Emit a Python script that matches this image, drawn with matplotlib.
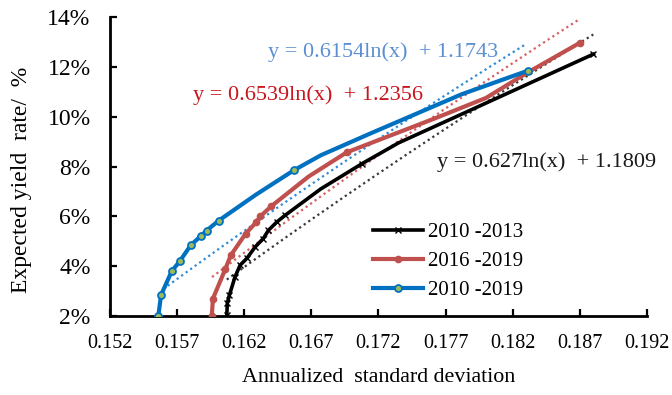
import numpy as np
import matplotlib
matplotlib.use("Agg")
import matplotlib.pyplot as plt
from matplotlib.ticker import FixedLocator, FixedFormatter

plt.rcParams['font.family'] = ['Liberation Serif', 'DejaVu Serif']

# ---- data ----
labels = ["2010 -2013", "2016 -2019", "2010 -2019"]
x_ticks = [0.152, 0.157, 0.162, 0.167, 0.172, 0.177, 0.182, 0.187, 0.192]
x_tick_labels = ["0.152", "0.157", "0.162", "0.167", "0.172", "0.177", "0.182", "0.187", "0.192"]
y_ticks = [0.02, 0.04, 0.06, 0.08, 0.10, 0.12, 0.14]
y_tick_labels = ["2%", "4%", "6%", "8%", "10%", "12%", "14%"]

x_1013 = [0.1607, 0.16074, 0.1609, 0.1613, 0.16169, 0.16219, 0.16281, 0.16342,
          0.16380, 0.16442, 0.16504, 0.1677, 0.17076, 0.1735, 0.1786, 0.18801]
y_1013 = [2.04, 2.51, 2.85, 3.55, 4.04, 4.31, 4.77, 5.11,
          5.44, 5.77, 6.04, 7.10, 8.11, 8.95, 10.20, 12.51]
mk_1013 = [0, 1, 2, 3, 4, 5, 6, 7, 8, 9, 10, 12, 15]

x_1619 = [0.15958, 0.15967, 0.1606, 0.1610, 0.1621, 0.1629, 0.1632, 0.1640,
          0.1668, 0.16964, 0.1761, 0.1800, 0.1831, 0.18702]
y_1619 = [2.00, 2.70, 3.90, 4.44, 5.30, 5.77, 6.00, 6.40,
          7.60, 8.57, 9.91, 10.75, 11.77, 12.97]
mk_1619 = [0, 1, 2, 3, 4, 5, 6, 7, 9, 13]

x_1019 = [0.1556, 0.1558, 0.1566, 0.1572, 0.1580, 0.1588, 0.1592, 0.1601,
          0.1629, 0.1657, 0.1677, 0.1715, 0.1744, 0.1782, 0.1831]
y_1019 = [2.00, 2.84, 3.80, 4.20, 4.83, 5.23, 5.43, 5.83,
          6.88, 7.85, 8.45, 9.35, 10.02, 10.90, 11.84]
mk_1019 = [0, 1, 2, 3, 4, 5, 6, 7, 9, 14]

# trend line coefficients (y = a ln(x) + b) and their x ranges
trend_a = [0.627, 0.6539, 0.6154]
trend_b = [1.1809, 1.2356, 1.1743]
trend_x0 = [0.1607, 0.1596, 0.1563]
trend_x1 = [0.1880, 0.1870, 0.1829]
eq_text = ["y = 0.627ln(x)  + 1.1809", "y = 0.6539ln(x)  + 1.2356", "y = 0.6154ln(x)  + 1.1743"]

# ---- figure ----
W, H = 672, 395
fig = plt.figure(figsize=(W / 100, H / 100), dpi=100)
ax = fig.add_axes([110 / W, 1 - 316 / H, (647 - 110) / W, (316 - 17) / H])

line_cols = ["#000000", "#C0504D", "#0070C0"]
trend_cols = ["#3a3a3a", "#D96060", "#2E8BD8"]
eq_cols = ["#1a1a1a", "#C8141C", "#5B8FD4"]

# trend lines
for a, b, x0, x1, c in zip(trend_a, trend_b, trend_x0, trend_x1, trend_cols):
    xs = np.linspace(x0, x1, 200)
    ax.plot(xs, a * np.log(xs) + b, linestyle=(0, (1, 1.5)), color=c, lw=1.6, zorder=2)

# series
ax.plot(x_1013, np.array(y_1013) / 100, color=line_cols[0], lw=2.6, marker='x',
        ms=4, mew=1.0, markevery=mk_1013, label=labels[0], zorder=3)
ax.plot(x_1619, np.array(y_1619) / 100, color=line_cols[1], lw=3.0, marker='o',
        ms=4.5, mfc=line_cols[1], mec=line_cols[1], markevery=mk_1619, label=labels[1], zorder=4)
ax.plot(x_1019, np.array(y_1019) / 100, color=line_cols[2], lw=3.0, marker='o',
        ms=5, mfc="#9BBB59", mec=line_cols[2], mew=1.3, markevery=mk_1019, label=labels[2], zorder=5)

ax.set_xlim(x_ticks[0], x_ticks[-1])
ax.set_ylim(y_ticks[0], y_ticks[-1])
ax.xaxis.set_major_locator(FixedLocator(x_ticks))
ax.xaxis.set_major_formatter(FixedFormatter(x_tick_labels))
ax.yaxis.set_major_locator(FixedLocator(y_ticks))
ax.yaxis.set_major_formatter(FixedFormatter(y_tick_labels))
for s in ["top", "right"]:
    ax.spines[s].set_visible(False)
for s in ["left", "bottom"]:
    ax.spines[s].set_linewidth(2.0)
ax.tick_params(axis='both', direction='in', length=5, width=1.6)
ax.tick_params(axis='x', labelsize=14.5, pad=13)
ax.tick_params(axis='y', labelsize=17, pad=14)

ax.set_xlabel("Annualized  standard deviation", fontsize=15.8)
ax.xaxis.set_label_coords(0.5, -(378 - 316) / (316 - 17), transform=ax.transAxes)
ax.xaxis.label.set_va('center')
ax.set_ylabel("Expected yield  rate/  %", fontsize=17)
ax.yaxis.set_label_coords(-(110 - 22) / (647 - 110), (316 - 180) / (316 - 17), transform=ax.transAxes)
ax.yaxis.label.set_va('center')

leg = ax.legend(loc='upper left', bbox_to_anchor=((365 - 110) / (647 - 110), (316 - 214) / (316 - 17)),
                frameon=False, fontsize=15, handlelength=2.4, handletextpad=0.2,
                labelspacing=0.45, borderaxespad=0)

# equations
fig.text(437 / W, 1 - 162 / H, eq_text[0], color=eq_cols[0], fontsize=16, va='center', ha='left')
fig.text(193 / W, 1 - 95 / H, eq_text[1], color=eq_cols[1], fontsize=16, va='center', ha='left')
fig.text(268 / W, 1 - 52 / H, eq_text[2], color=eq_cols[2], fontsize=16, va='center', ha='left')

fig.savefig("out.png", dpi=100)
